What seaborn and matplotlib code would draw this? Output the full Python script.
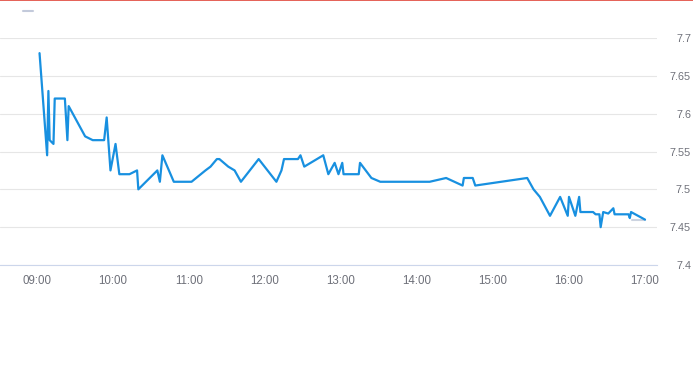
import numpy as np
import pandas as pd
import matplotlib
matplotlib.use("Agg")
import matplotlib.pyplot as plt
import seaborn as sns

# price readings through the trading day
times = ["09:02", "09:08", "09:09", "09:10", "09:13", "09:14", "09:22", "09:24", "09:25",
         "09:38", "09:44", "09:53", "09:55", "09:58", "10:02", "10:05", "10:13", "10:19",
         "10:20", "10:35", "10:37", "10:39", "10:48", "11:02", "11:13", "11:17", "11:22",
         "11:24", "11:31", "11:36", "11:41", "11:55", "12:09", "12:13", "12:15", "12:26",
         "12:28", "12:31", "12:46", "12:50", "12:55", "12:58", "13:01", "13:02", "13:14",
         "13:15", "13:24", "13:31", "14:10", "14:23", "14:36", "14:37", "14:44", "14:46",
         "15:27", "15:32", "15:37", "15:45", "15:53", "15:59", "16:00", "16:05", "16:08",
         "16:09", "16:19", "16:21", "16:24", "16:25", "16:27", "16:31", "16:35", "16:36",
         "16:47", "16:48", "16:49", "17:00"]
prices = [7.68, 7.545, 7.63, 7.565, 7.56, 7.62, 7.62, 7.565, 7.61,
          7.57, 7.565, 7.565, 7.595, 7.525, 7.56, 7.52, 7.52, 7.525,
          7.50, 7.525, 7.51, 7.545, 7.51, 7.51, 7.525, 7.53, 7.54,
          7.54, 7.53, 7.525, 7.51, 7.54, 7.51, 7.525, 7.54, 7.54,
          7.545, 7.53, 7.545, 7.52, 7.535, 7.52, 7.535, 7.52, 7.52,
          7.535, 7.515, 7.51, 7.51, 7.515, 7.505, 7.515, 7.515, 7.505,
          7.515, 7.50, 7.49, 7.465, 7.49, 7.465, 7.49, 7.465, 7.49,
          7.47, 7.47, 7.467, 7.467, 7.45, 7.47, 7.468, 7.475, 7.467,
          7.467, 7.462, 7.47, 7.46]

# faint gray stub at the end
stub_times = ["16:50", "17:00"]
stub_prices = [7.459, 7.459]

tick_times = ["09:00", "10:00", "11:00", "12:00", "13:00", "14:00", "15:00", "16:00", "17:00"]
y_ticks = [7.4, 7.45, 7.5, 7.55, 7.6, 7.65, 7.7]
y_labels = ["7.4", "7.45", "7.5", "7.55", "7.6", "7.65", "7.7"]


def to_hours(ts):
    return pd.to_timedelta([t + ":00" for t in ts]).total_seconds() / 3600


df = pd.DataFrame({"hour": to_hours(times), "price": prices})
stub = pd.DataFrame({"hour": to_hours(stub_times), "price": stub_prices})

sns.set_style("white")
plt.rcParams["font.family"] = ["Liberation Sans", "DejaVu Sans"]

fig = plt.figure(figsize=(6.93, 3.65), dpi=100)
ax = fig.add_axes([0, 1 - 265 / 365, 657 / 693, (265 - 38) / 365])

sns.lineplot(data=stub, x="hour", y="price", ax=ax, color="#ccd3e0",
             linewidth=1.5, estimator=None, sort=False, zorder=2)
sns.lineplot(data=df, x="hour", y="price", ax=ax, color="#1890e0",
             linewidth=1.6, estimator=None, sort=False, zorder=3)

ax.set_xlim(9 - 37 / 76, 9 + (657 - 37) / 76)
ax.set_ylim(7.4, 7.7)

ax.set_xticks(to_hours(tick_times))
ax.set_xticklabels(tick_times)
ax.set_yticks(y_ticks)
ax.set_yticklabels(y_labels)
ax.yaxis.tick_right()
for lbl in ax.get_yticklabels():
    lbl.set_horizontalalignment("right")
ax.tick_params(axis="y", length=0, pad=24.5, labelsize=7.8, labelcolor="#6e7079")
ax.tick_params(axis="x", length=4, width=0.8, color="#ccd6eb", pad=3,
               labelsize=8.3, labelcolor="#6e7079")

ax.grid(axis="y", color="#e6e6e6", linewidth=0.8)
ax.grid(axis="x", visible=False)
for side in ["top", "left", "right"]:
    ax.spines[side].set_visible(False)
ax.spines["bottom"].set_color("#ccd6eb")
ax.spines["bottom"].set_linewidth(0.8)
ax.set_xlabel("")
ax.set_ylabel("")

# red rule across the top and small legend dash
fig.add_artist(plt.Line2D([0, 1], [0.999, 0.999], color="#e0463a", linewidth=1.2,
                          transform=fig.transFigure))
fig.add_artist(plt.Line2D([23 / 693, 33 / 693], [1 - 11 / 365, 1 - 11 / 365],
                          color="#c3cadb", linewidth=1.5, transform=fig.transFigure))

fig.savefig("out.png", dpi=100)
